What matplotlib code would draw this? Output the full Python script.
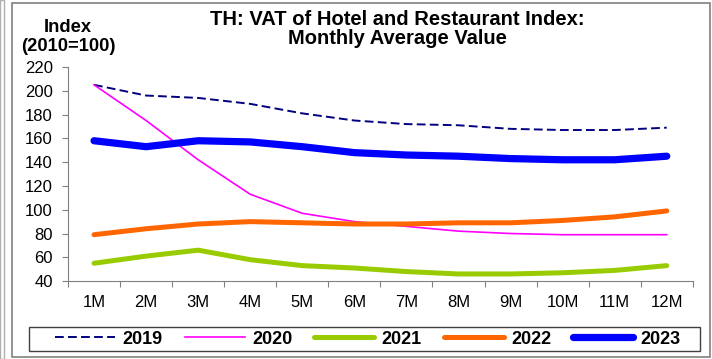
import numpy as np
import matplotlib.pyplot as plt
from matplotlib.patches import Rectangle

plt.rcParams['font.family'] = ['Liberation Sans', 'DejaVu Sans']

months = ['1M', '2M', '3M', '4M', '5M', '6M', '7M', '8M', '9M', '10M', '11M', '12M']
v2019 = [205, 196, 194, 189, 181, 175, 172, 171, 168, 167, 167, 169]
v2020 = [205, 175, 142, 113, 97, 90, 86, 82, 80, 79, 79, 79]
v2021 = [55, 61, 66, 58, 53, 51, 48, 46, 46, 47, 49, 53]
v2022 = [79, 84, 88, 90, 89, 88, 88, 89, 89, 91, 94, 99]
v2023 = [158, 153, 158, 157, 153, 148, 146, 145, 143, 142, 142, 145]

W, H = 712, 359
fig = plt.figure(figsize=(W / 100, H / 100), dpi=100)
ax = fig.add_axes([0.0955, 0.217, 0.8775, 0.5964])

x = np.arange(len(months))
ax.plot(x, v2019, color='#000080', lw=1.4, ls=(0, (4.5, 2.2)), label='2019')
ax.plot(x, v2020, color='#ff00ff', lw=1.2, label='2020')
ax.plot(x, v2021, color='#99cc00', lw=3.6, label='2021', solid_capstyle='round')
ax.plot(x, v2022, color='#ff6600', lw=3.6, label='2022', solid_capstyle='round')
ax.plot(x, v2023, color='#0000ff', lw=5.2, label='2023', solid_capstyle='round')

ax.set_xlim(-0.5, len(months) - 0.5)
ax.set_ylim(40, 220)
ax.set_yticks(range(40, 221, 20))
ax.set_xticks(np.arange(-0.5, len(months), 1))
ax.set_xticklabels([])
ax.set_xticks(x, minor=True)
ax.set_xticklabels(months, minor=True)
ax.tick_params(axis='x', which='minor', length=0, pad=10, labelsize=12)
ax.tick_params(axis='x', which='major', length=4.3, color='#808080', direction='out')
ax.tick_params(axis='y', length=4.3, color='#808080', labelsize=12, pad=6.5)
for s in ['top', 'right']:
    ax.spines[s].set_visible(False)
for s in ['left', 'bottom']:
    ax.spines[s].set_color('#808080')

fig.text(0.558, 0.972, 'TH: VAT of Hotel and Restaurant Index:\nMonthly Average Value',
         ha='center', va='top', fontsize=14.5, fontweight='bold', linespacing=1.0)
fig.text(0.0955, 0.947, 'Index\n(2010=100)', ha='center', va='top',
         fontsize=13.2, fontweight='bold', linespacing=1.15)

# legend entries without frame; box drawn separately
leg = fig.legend(loc='center', bbox_to_anchor=(368 / W, 1 - 339 / H), ncol=5,
                 frameon=False, handlelength=3.33, columnspacing=1.22,
                 handletextpad=0.4, borderpad=0.0,
                 prop={'weight': 'bold', 'size': 13})
fig.patches.append(Rectangle((29 / W, 1 - 351 / H), 671 / W, 24 / H,
                             transform=fig.transFigure, fill=False,
                             edgecolor='#404040', lw=1.0))

fig.patches.append(Rectangle((12 / W, 0.006), 698 / W, 0.985, transform=fig.transFigure,
                             fill=False, edgecolor='#808080', lw=1.2))
fig.patches.append(Rectangle((0.0, 0.0), 0.006, 1.0, transform=fig.transFigure,
                             fill=False, edgecolor='#b0b0b0', lw=1.0))

fig.savefig('out.png', dpi=100)
